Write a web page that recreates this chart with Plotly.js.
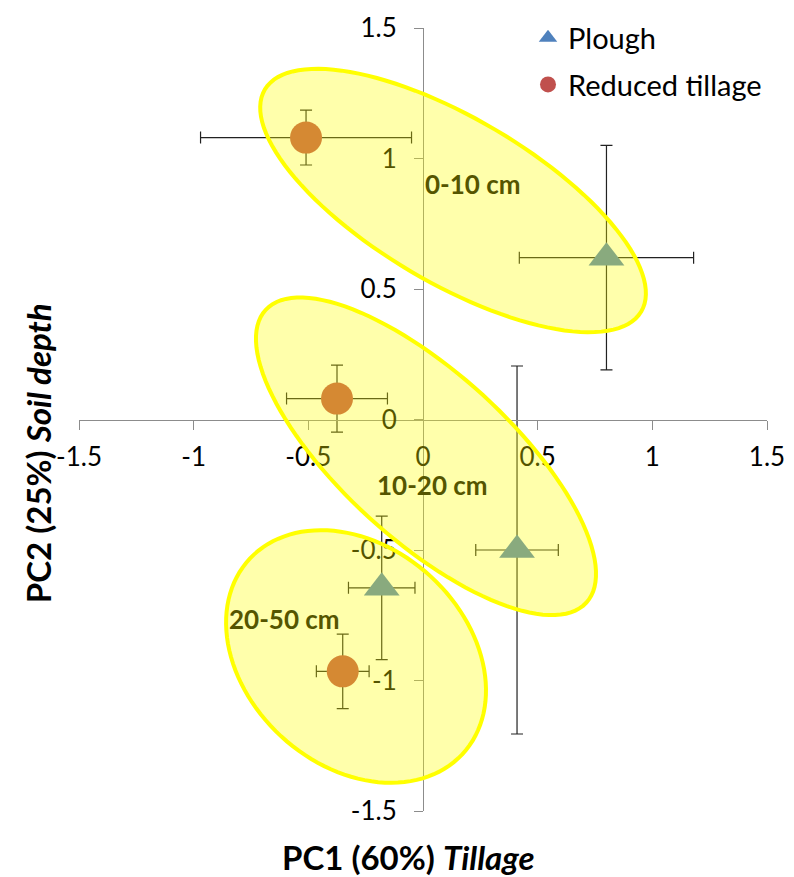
<!DOCTYPE html>
<html>
<head>
<meta charset="utf-8">
<script src="https://cdn.plot.ly/plotly-3.0.1.min.js"></script>
<style>
  html, body { margin: 0; padding: 0; background: #ffffff; }
  #chart { width: 794px; height: 877px; }
</style>
</head>
<body>
<div id="chart"></div>
<script>
// ---- data ----
const depthLabels = ['0-10 cm', '10-20 cm', '20-50 cm'];

const ploughX    = [0.80, 0.41, -0.18];
const ploughY    = [0.62, -0.50, -0.645];
const ploughXerr = [0.38, 0.18, 0.145];
const ploughYerr = [0.43, 0.705, 0.275];

const reducedX    = [-0.51, -0.375, -0.35];
const reducedY    = [1.08, 0.08, -0.965];
const reducedXerr = [0.46, 0.22, 0.115];
const reducedYerr = [0.105, 0.128, 0.143];

const tickVals   = [-1.5, -1, -0.5, 0, 0.5, 1, 1.5];
const tickLabels = ['-1.5', '-1', '-0.5', '0', '0.5', '1', '1.5'];

// ---- layout geometry ----
const W = 794, H = 877;
const M = { l: 79, r: 27, t: 21, b: 66 };
const xRange = [-1.5, 1.5], yRange = [-1.5, 1.5];
const xs = (W - M.l - M.r) / (xRange[1] - xRange[0]);   // px per unit
const ys = (H - M.t - M.b) / (yRange[1] - yRange[0]);

// ellipse outlines around each depth group: centre (data), semi-axes (px), tilt (deg)
const ellipseCx  = [0.131, 0.013, -0.292];
const ellipseCy  = [0.839, -0.141, -0.908];
const ellipseA   = [219, 218, 145];
const ellipseB   = [83, 84, 110];
const ellipseRot = [30.8, 42.7, 42.9];

function ellipsePath(cx, cy, a, b, rotDeg) {
  const th = rotDeg * Math.PI / 180;
  const n = 120;
  let p = '';
  for (let i = 0; i <= n; i++) {
    const t = 2 * Math.PI * i / n;
    const dx = a * Math.cos(t) * Math.cos(th) - b * Math.sin(t) * Math.sin(th);
    const dy = a * Math.cos(t) * Math.sin(th) + b * Math.sin(t) * Math.cos(th);
    const x = cx + dx / xs;
    const y = cy - dy / ys;
    p += (i === 0 ? 'M' : 'L') + x.toFixed(5) + ',' + y.toFixed(5);
  }
  return p + 'Z';
}

const shapes = ellipseCx.map((cx, i) => ({
  type: 'path',
  xref: 'x', yref: 'y',
  path: ellipsePath(cx, ellipseCy[i], ellipseA[i], ellipseB[i], ellipseRot[i]),
  fillcolor: 'rgba(255,255,0,0.33)',
  line: { color: '#ffff00', width: 4 },
  layer: 'above'
}));

const labelX = [0.218, 0.04, -0.602];
const labelY = [0.904, -0.25, -0.763];

const FONT = 'Lato, "Open Sans", sans-serif';

const annotations = depthLabels.map((t, i) => ({
  x: labelX[i], y: labelY[i], xref: 'x', yref: 'y',
  xanchor: 'center', yanchor: 'middle',
  text: '<b>' + t + '</b>', showarrow: false,
  font: { family: FONT, size: 26, color: '#555500' }
}));

annotations.push({
  xref: 'paper', yref: 'paper', xanchor: 'center', yanchor: 'middle',
  x: (408 - M.l) / (W - M.l - M.r), y: -(857 - (H - M.b)) / (H - M.t - M.b),
  text: '<b>PC1 (60%) <i>Tillage</i></b>', showarrow: false,
  font: { family: FONT, size: 33, color: '#000000' }
});
annotations.push({
  xref: 'paper', yref: 'paper', xanchor: 'center', yanchor: 'middle',
  x: -(M.l - 38) / (W - M.l - M.r), y: ((H - M.b) - 450) / (H - M.t - M.b),
  text: '<b>PC2 (25%) <i>Soil depth</i></b>', showarrow: false, textangle: -90,
  font: { family: FONT, size: 33, color: '#000000' }
});

const errStyle = { color: '#222222', thickness: 1.2, width: 6 };

const traces = [
  {
    name: 'Plough', type: 'scatter', mode: 'markers', legendgroup: 'p',
    x: ploughX, y: ploughY,
    error_x: Object.assign({ type: 'data', array: ploughXerr, visible: true }, errStyle),
    error_y: Object.assign({ type: 'data', array: ploughYerr, visible: true }, errStyle),
    marker: { symbol: 'triangle-up', size: 31, color: '#4f81bd', line: { width: 0 } }
  },
  {
    name: 'Reduced tillage', type: 'scatter', mode: 'markers', legendgroup: 'r',
    x: reducedX, y: reducedY,
    error_x: Object.assign({ type: 'data', array: reducedXerr, visible: true }, errStyle),
    error_y: Object.assign({ type: 'data', array: reducedYerr, visible: true }, errStyle),
    marker: { symbol: 'circle', size: 32, color: '#c0504d', line: { width: 0 } }
  }
];

const axisCommon = {
  showgrid: false, zeroline: false, showline: true,
  linecolor: '#8c8c8c', linewidth: 1,
  ticks: 'outside', ticklen: 9, tickwidth: 1, tickcolor: '#8c8c8c',
  tickmode: 'array', tickvals: tickVals, ticktext: tickLabels,
  tickfont: { family: FONT, size: 26, color: '#000000' },
  anchor: 'free', position: 0.5, fixedrange: true
};

const layout = {
  width: W, height: H,
  margin: M,
  paper_bgcolor: '#ffffff', plot_bgcolor: 'rgba(0,0,0,0)',
  showlegend: true,
  legend: {
    x: (528 - M.l) / (W - M.l - M.r), y: 1.02, xanchor: 'left', yanchor: 'top',
    bgcolor: 'rgba(0,0,0,0)', borderwidth: 0,
    font: { family: FONT, size: 29, color: '#000000' },
    tracegroupgap: 6
  },
  xaxis: Object.assign({}, axisCommon, { range: xRange, ticklabelstandoff: 5 }),
  yaxis: Object.assign({}, axisCommon, { range: yRange, ticklabelstandoff: 12 }),
  shapes: shapes,
  annotations: annotations
};

Plotly.newPlot('chart', traces, layout, { staticPlot: true, displayModeBar: false });
</script>
</body>
</html>
